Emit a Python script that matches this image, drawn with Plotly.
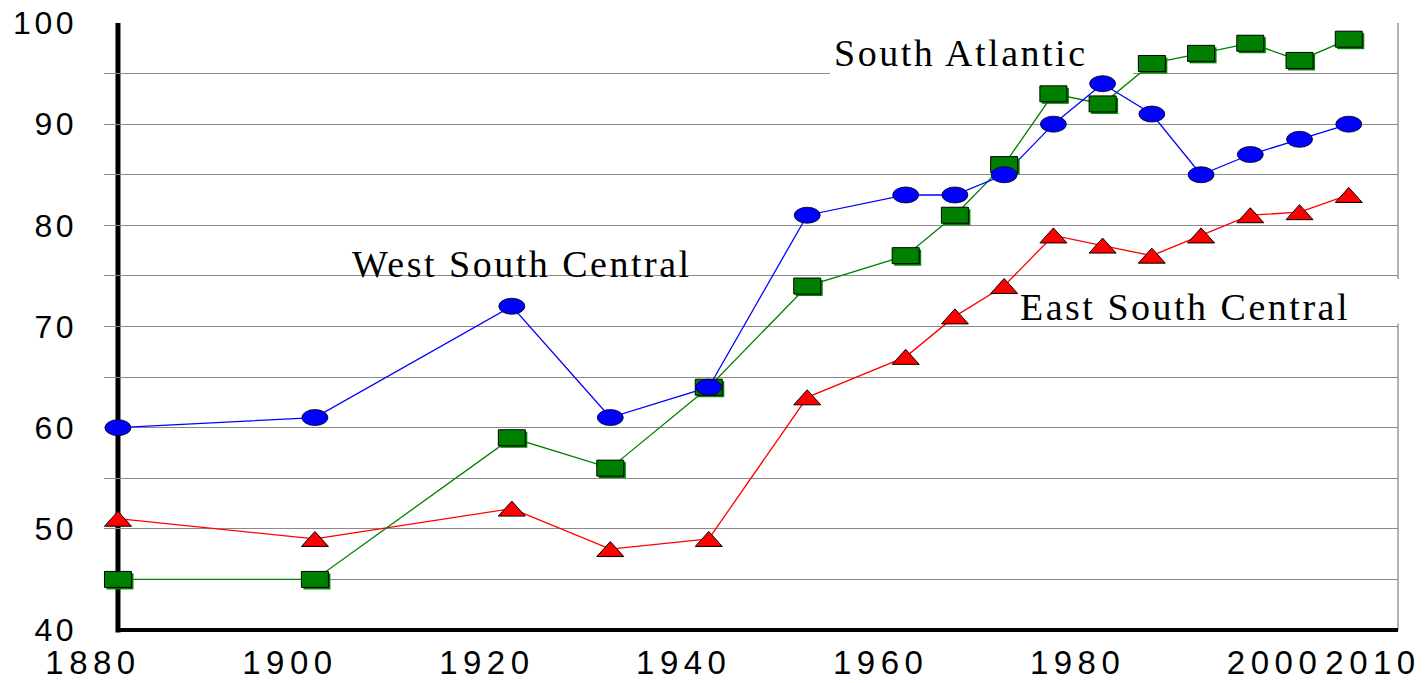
import plotly.graph_objects as go

# Census years and the share (%) for each division
years = [1880, 1900, 1920, 1930, 1940, 1950, 1960, 1965, 1970, 1975,
         1980, 1985, 1990, 1995, 2000, 2005]
south_atlantic = [45, 45, 59, 56, 64, 74, 77, 81, 86, 93, 92, 96, 97, 98, 96.3, 98.4]
west_south_central = [60, 61, 72, 61, 64, 81, 83, 83, 85, 90, 94, 91, 85, 87, 88.5, 90]
east_south_central = [51, 49, 52, 48, 49, 63, 67, 71, 74, 79, 78, 77, 79, 81, 81.3, 83]

x_ticks = [1880, 1900, 1920, 1940, 1960, 1980, 2000, 2010]
y_ticks = [40, 45, 50, 55, 60, 65, 70, 75, 80, 85, 90, 95, 100]
y_labels = [str(v) if v % 10 == 0 else "" for v in y_ticks]

BLUE = "#0000ff"
GREEN = "#008000"
RED = "#ff0000"
GRID = "#8a8a8a"
SANS = "Liberation Sans, Arial, sans-serif"
SERIF = "Liberation Serif, Times New Roman, serif"

fig = go.Figure()

# connecting lines
for vals, col in [(east_south_central, RED), (south_atlantic, GREEN), (west_south_central, BLUE)]:
    fig.add_trace(go.Scatter(x=years, y=vals, mode="lines",
                             line=dict(color=col, width=1.3), hoverinfo="skip"))

shapes = []

# right frame edge and white label backdrops
shapes.append(dict(type="line", xref="paper", yref="y", x0=1, x1=1, y0=40, y1=100,
                   line=dict(color=GRID, width=1.3), layer="below"))
shapes.append(dict(type="rect", xref="x", yref="y", x0=1952.3, x1=1983.1, y0=94.75, y1=99.5,
                   fillcolor="white", line=dict(width=0), layer="between"))
shapes.append(dict(type="rect", xref="paper", yref="y", x0=0.70, x1=1.03, y0=70.3, y1=74.7,
                   fillcolor="white", line=dict(width=0), layer="between"))

# thick black axes
shapes.append(dict(type="line", xref="x", yref="paper", x0=1880, x1=1880, y0=-0.004, y1=1,
                   line=dict(color="black", width=5), layer="between"))
shapes.append(dict(type="line", xref="x", yref="paper", x0=1880, x1=2010, y0=0, y1=0,
                   line=dict(color="black", width=4), layer="between"))


def pix(x, y):
    return dict(xref="x", yref="y", xsizemode="pixel", ysizemode="pixel",
                xanchor=x, yanchor=y, layer="above")


# South Atlantic: shadowed rectangles
for x, y in zip(years, south_atlantic):
    shapes.append(dict(type="rect", x0=-11.5, x1=15.5, y0=-10, y1=6,
                       fillcolor=GREEN, line=dict(width=0), **pix(x, y)))
    shapes.append(dict(type="rect", x0=-13.5, x1=13.5, y0=-8, y1=8,
                       fillcolor=GREEN, line=dict(color="black", width=1), **pix(x, y)))

# East South Central: flat triangles
for x, y in zip(years, east_south_central):
    shapes.append(dict(type="path", path="M-13.5,-7.5 L13.5,-7.5 L0,7.5 Z",
                       fillcolor=RED, line=dict(color="black", width=1), **pix(x, y)))

# West South Central: ellipses
for x, y in zip(years, west_south_central):
    shapes.append(dict(type="circle", x0=-13, x1=13, y0=-8, y1=8,
                       fillcolor=BLUE, line=dict(color="black", width=0.8), **pix(x, y)))


def spaced(txt, sp):
    return f'<span style="letter-spacing:{sp}px">{txt}</span>'


annotations = [
    dict(text=spaced("South Atlantic", 2.5), x=1952.5, y=97.0),
    dict(text=spaced("West South Central", 2.5), x=1903.6, y=76.2),
    dict(text=spaced("East South Central", 2.5), x=1971.4, y=71.9),
]
for a in annotations:
    a.update(xref="x", yref="y", xanchor="left", yanchor="middle", showarrow=False,
             font=dict(family=SERIF, size=38, color="black"))

fig.update_layout(
    width=1426, height=683,
    margin=dict(l=104, r=28, t=23, b=53, autoexpand=False),
    paper_bgcolor="white", plot_bgcolor="white",
    showlegend=False,
    shapes=shapes,
    annotations=annotations,
    xaxis=dict(range=[1880 - 1.42, 2010], tickvals=x_ticks,
               ticktext=[spaced(v, 5.5) for v in x_ticks],
               ticks="", showgrid=False, zeroline=False, showline=False,
               tickangle=0, automargin=False,
               ticklabelshift=-25, ticklabelstandoff=10,
               tickfont=dict(family=SANS, size=33, color="black")),
    yaxis=dict(range=[40, 100], tickvals=y_ticks,
               ticktext=[spaced(t, 3.5) for t in y_labels],
               ticks="", showgrid=True, gridcolor=GRID, gridwidth=1.3,
               zeroline=False, showline=False, automargin=False,
               ticklabelstandoff=26,
               tickfont=dict(family=SANS, size=32, color="black")),
)

fig.write_html("out.html")
